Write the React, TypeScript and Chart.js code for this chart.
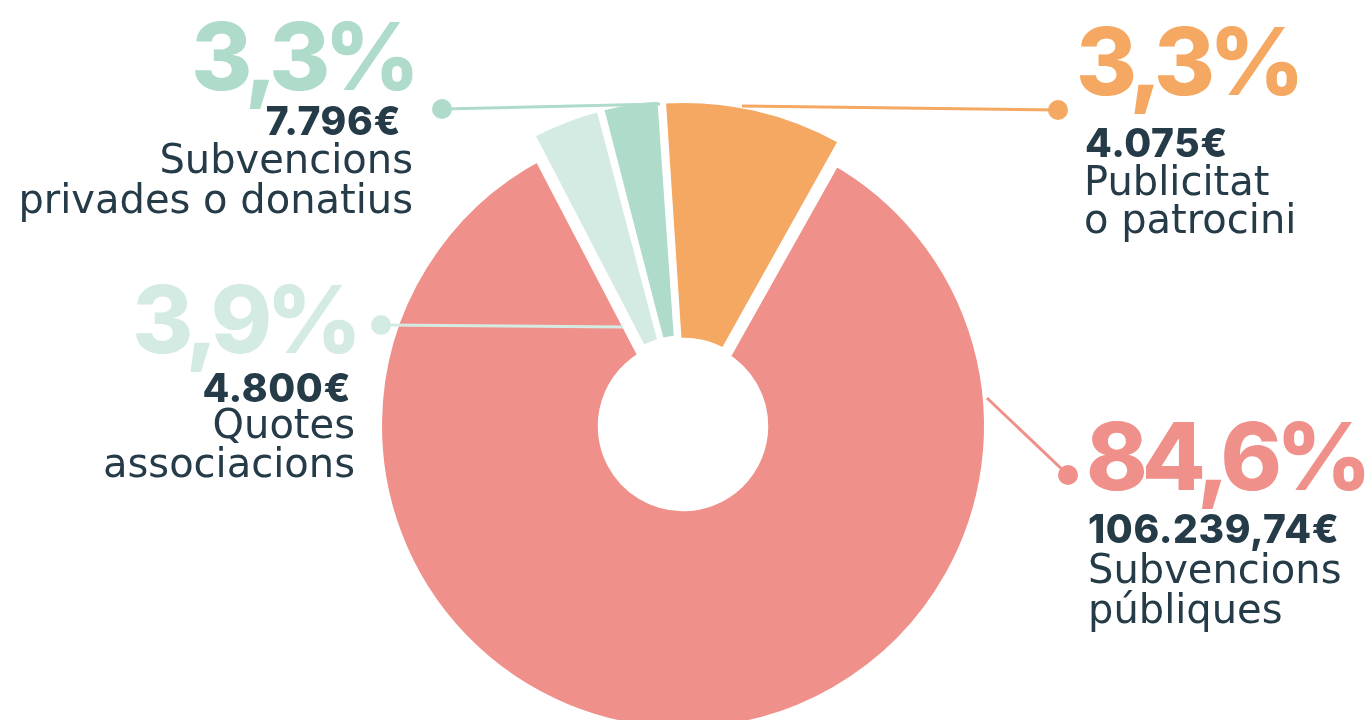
import React, { useEffect, useRef } from 'react';
import { Chart, registerables } from 'chart.js';

Chart.register(...registerables);

// ---- data ----
const categories = ['Subvencions públiques', 'Quotes associacions', 'Subvencions privades o donatius', 'Publicitat o patrocini'];
// share of the circle each slice occupies in the picture (%)
const sliceShares = [84.2, 3.6, 3.0, 9.2];
const percentLabels = ['84,6%', '3,9%', '3,3%', '3,3%'];
const amountLabels = ['106.239,74€', '4.800€', '7.796€', '4.075€'];
const nameLines = [
  ['Subvencions', 'públiques'],
  ['Quotes', 'associacions'],
  ['Subvencions', 'privades o donatius'],
  ['Publicitat', 'o patrocini'],
];

// ---- styles ----
const sliceColors = ['#ef918a', '#d4ebe3', '#afdbca', '#f4a862'];
const sliceBorderWidths = [16, 5, 5, 5];
const sliceOffsets = [0, 24, 24, 24];
const extraOuterRadius = [0, 8, 8, 8];
const TEXT_DARK = '#253b48';

const BIG_FONT = { fontFamily: 'Inter', fontWeight: 800, fontSize: 93, letterSpacing: -6 };
const AMOUNT_FONT = { fontFamily: 'Inter', fontWeight: 800, fontSize: 39, letterSpacing: 0.6 };
const NAME_FONT = { fontFamily: '"DejaVu Sans"', fontWeight: 400, fontSize: 40 };

// callout layout: anchor side, x of each text line, baselines, dot and line end
const callouts = [
  { idx: 0, anchor: 'start', xs: [1086, 1088, 1088, 1088], ys: [490, 543, 583, 623], dot: [1068, 475], end: [987, 398] },
  { idx: 1, anchor: 'end', xs: [356, 351, 355, 355], ys: [353, 402, 438, 477], dot: [381, 325], end: [623, 327] },
  { idx: 2, anchor: 'end', xs: [414, 401, 413, 413], ys: [90, 135, 173, 213], dot: [442, 109], end: [660, 104] },
  { idx: 3, anchor: 'start', xs: [1076, 1085, 1084, 1084], ys: [95, 157, 195, 233], dot: [1058, 110], end: [742, 106] },
];

const growArcs = {
  id: 'growArcs',
  afterDatasetUpdate(chart: any) {
    const meta = chart.getDatasetMeta(0);
    meta.data.forEach((arc: any, i: number) => {
      if (extraOuterRadius[i]) arc.outerRadius = arc.outerRadius + extraOuterRadius[i];
    });
  },
};

export default function App() {
  const canvasRef = useRef<HTMLCanvasElement | null>(null);

  useEffect(() => {
    if (!canvasRef.current) return;
    const chart = new Chart(canvasRef.current, {
      type: 'doughnut',
      data: {
        labels: categories,
        datasets: [
          {
            data: sliceShares,
            backgroundColor: sliceColors,
            borderColor: '#ffffff',
            borderWidth: sliceBorderWidths,
            offset: sliceOffsets,
          },
        ],
      },
      options: {
        animation: false,
        responsive: true,
        maintainAspectRatio: false,
        events: [],
        rotation: 29.3,
        radius: 309,
        cutout: '25%',
        layout: { padding: 0 },
        plugins: {
          legend: { display: false },
          tooltip: { enabled: false },
          title: { display: false },
        },
      } as any,
      plugins: [growArcs],
    });
    return () => chart.destroy();
  }, []);

  return (
    <div style={{ position: 'fixed', left: 0, top: 0, width: 1370, height: 720, overflow: 'hidden', background: '#ffffff' }}>
      <div style={{ position: 'absolute', left: 0, top: 0, width: 1366, height: 852 }}>
        <canvas ref={canvasRef} />
      </div>
      <svg width={1370} height={720} style={{ position: 'absolute', left: 0, top: 0 }}>
        {callouts.map((c) => (
          <g key={c.idx}>
            <line x1={c.dot[0]} y1={c.dot[1]} x2={c.end[0]} y2={c.end[1]} stroke={sliceColors[c.idx]} strokeWidth={3} />
            <circle cx={c.dot[0]} cy={c.dot[1]} r={10} fill={sliceColors[c.idx]} />
            <text x={c.xs[0]} y={c.ys[0]} textAnchor={c.anchor as any} fill={sliceColors[c.idx]} style={BIG_FONT as any}>
              {percentLabels[c.idx]}
            </text>
            <text x={c.xs[1]} y={c.ys[1]} textAnchor={c.anchor as any} fill={TEXT_DARK} style={AMOUNT_FONT as any}>
              {amountLabels[c.idx]}
            </text>
            {nameLines[c.idx].map((t, k) => (
              <text key={k} x={c.xs[2 + k]} y={c.ys[2 + k]} textAnchor={c.anchor as any} fill={TEXT_DARK} style={NAME_FONT as any}>
                {t}
              </text>
            ))}
          </g>
        ))}
      </svg>
    </div>
  );
}
